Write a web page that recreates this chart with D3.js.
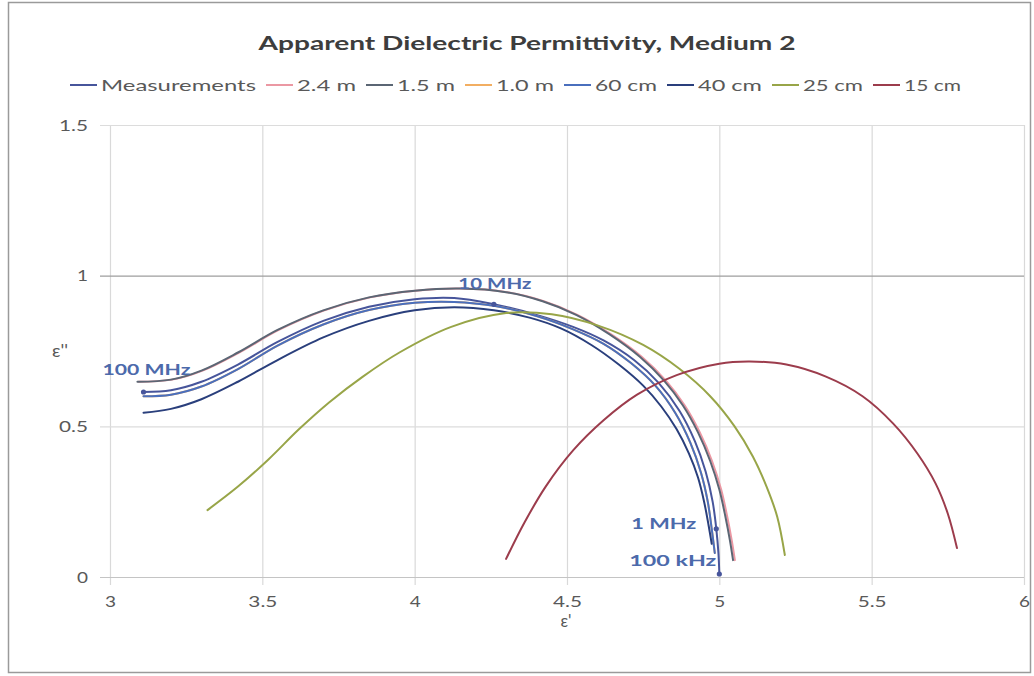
<!DOCTYPE html>
<html>
<head>
<meta charset="utf-8">
<script src="https://cdn.jsdelivr.net/npm/d3@7"></script>
<style>
  body { margin: 0; background: #fff; }
  svg { display: block; }
  text { font-family: Lato, "Open Sans", "Liberation Sans", sans-serif; }
</style>
</head>
<body>
<svg id="chart" width="1034" height="676"></svg>
<script>
// ---- data ----------------------------------------------------------------
const seriesNames = ["Measurements", "2.4 m", "1.5 m", "1.0 m", "60 cm", "40 cm", "25 cm", "15 cm"];

const xTicks = [3, 3.5, 4, 4.5, 5, 5.5, 6];
const yTicks = [0, 0.5, 1, 1.5];
const xTickLabels = ["3", "3.5", "4", "4.5", "5", "5.5", "6"];
const yTickLabels = ["0", "0.5", "1", "1.5"];

// measured permittivity (ε', ε''), from 100 MHz down to 100 kHz
const measEps1 = [3.11, 3.2, 3.3, 3.42, 3.55, 3.7, 3.85, 4.0, 4.13, 4.26, 4.4, 4.52, 4.62, 4.72, 4.80, 4.87, 4.92, 4.955, 4.978, 4.99, 4.997, 5.0];
const measEps2 = [0.614, 0.62, 0.648, 0.705, 0.78, 0.85, 0.897, 0.922, 0.926, 0.905, 0.87, 0.83, 0.785, 0.72, 0.645, 0.55, 0.45, 0.35, 0.25, 0.16, 0.08, 0.01];
const measFreq = ["100 MHz", "", "", "", "", "", "", "", "", "10 MHz", "", "", "", "", "", "", "", "", "", "1 MHz", "", "100 kHz"];

// modelled apparent permittivity for each probe distance
const m240Eps1 = [3.094, 3.204, 3.304, 3.424, 3.554, 3.704, 3.854, 4.004, 4.154, 4.304, 4.424, 4.534, 4.645, 4.746, 4.826, 4.886, 4.936, 4.976, 5.006, 5.026, 5.041, 5.051];
const m240Eps2 = [0.648, 0.655, 0.685, 0.745, 0.82, 0.885, 0.928, 0.95, 0.957, 0.945, 0.915, 0.87, 0.805, 0.73, 0.65, 0.57, 0.48, 0.385, 0.29, 0.2, 0.12, 0.056];

const m150Eps1 = [3.09, 3.2, 3.3, 3.42, 3.55, 3.7, 3.85, 4.0, 4.15, 4.3, 4.42, 4.53, 4.64, 4.74, 4.82, 4.88, 4.93, 4.97, 5.0, 5.02, 5.035, 5.045];
const m150Eps2 = [0.648, 0.655, 0.685, 0.745, 0.82, 0.885, 0.928, 0.95, 0.957, 0.945, 0.915, 0.87, 0.805, 0.73, 0.65, 0.57, 0.48, 0.385, 0.29, 0.2, 0.12, 0.056];

const m100Eps1 = [3.11, 3.2, 3.3, 3.42, 3.55, 3.7, 3.85, 4.0, 4.13, 4.26, 4.4, 4.52, 4.62, 4.71, 4.79, 4.855, 4.905, 4.94, 4.962, 4.975, 4.985];
const m100Eps2 = [0.6, 0.605, 0.632, 0.69, 0.768, 0.838, 0.886, 0.91, 0.913, 0.9, 0.866, 0.822, 0.774, 0.71, 0.635, 0.545, 0.445, 0.345, 0.25, 0.16, 0.08];

const m60Eps1 = [3.11, 3.2, 3.3, 3.42, 3.55, 3.7, 3.85, 4.0, 4.13, 4.26, 4.4, 4.52, 4.62, 4.71, 4.79, 4.855, 4.905, 4.94, 4.962, 4.975, 4.985];
const m60Eps2 = [0.6, 0.605, 0.632, 0.69, 0.768, 0.838, 0.886, 0.91, 0.913, 0.9, 0.866, 0.822, 0.774, 0.71, 0.635, 0.545, 0.445, 0.345, 0.25, 0.16, 0.08];

const m40Eps1 = [3.11, 3.2, 3.3, 3.42, 3.55, 3.7, 3.85, 4.0, 4.13, 4.26, 4.38, 4.48, 4.58, 4.67, 4.75, 4.81, 4.86, 4.9, 4.93, 4.95, 4.965, 4.975];
const m40Eps2 = [0.545, 0.558, 0.59, 0.648, 0.72, 0.795, 0.85, 0.885, 0.895, 0.885, 0.86, 0.825, 0.77, 0.705, 0.635, 0.565, 0.49, 0.41, 0.33, 0.25, 0.17, 0.11];

const m25Eps1 = [3.32, 3.42, 3.52, 3.62, 3.72, 3.83, 3.95, 4.12, 4.3, 4.45, 4.6, 4.75, 4.87, 4.97, 5.05, 5.11, 5.155, 5.19, 5.215];
const m25Eps2 = [0.222, 0.3, 0.39, 0.49, 0.58, 0.665, 0.745, 0.83, 0.876, 0.872, 0.835, 0.77, 0.69, 0.6, 0.5, 0.4, 0.3, 0.2, 0.073];

const m15Eps1 = [4.3, 4.36, 4.43, 4.52, 4.62, 4.73, 4.86, 5.0, 5.1, 5.22, 5.35, 5.47, 5.57, 5.65, 5.71, 5.75, 5.78];
const m15Eps2 = [0.06, 0.18, 0.3, 0.42, 0.52, 0.605, 0.67, 0.708, 0.715, 0.705, 0.665, 0.6, 0.51, 0.41, 0.31, 0.21, 0.096];

// ---- styling & layout ----------------------------------------------------
const seriesColors = {
  "Measurements": "#47559b",
  "2.4 m": "#eb98a3",
  "1.5 m": "#5b6674",
  "1.0 m": "#f2ae62",
  "60 cm": "#4a6fbd",
  "40 cm": "#2a3f7c",
  "25 cm": "#98a548",
  "15 cm": "#9c3c4c"
};
const legendTextWidths = [155, 59, 58, 58, 62, 64, 60, 57];

const W = 1034, H = 676;
const plot = { left: 110, right: 1024, top: 125, bottom: 577 };

const svg = d3.select("#chart");
const x = d3.scaleLinear().domain([3, 6]).range([plot.left, plot.right]);
const y = d3.scaleLinear().domain([0, 1.5]).range([plot.bottom, plot.top]);

// chart frame
svg.append("rect")
  .attr("x", 8.5).attr("y", 2.5)
  .attr("width", W - 12).attr("height", H - 6)
  .attr("fill", "#fff").attr("stroke", "#9a9a9a").attr("stroke-width", 1.5);

// approximate advance widths of the stretched tick lettering
const glyphW = ch => (ch === "." ? 7 : 11);
const labelWidth = s => Array.from(s).reduce((a, c) => a + glyphW(c), 0);

// x axis with full-height gridlines
const xAxis = svg.append("g")
  .attr("transform", `translate(0,${plot.bottom + 8})`)
  .call(d3.axisBottom(x)
    .tickValues(xTicks)
    .tickFormat((d, i) => xTickLabels[i])
    .tickSize(-(plot.bottom + 8 - plot.top))
    .tickPadding(11));
xAxis.select(".domain").remove();
xAxis.selectAll(".tick line").attr("stroke", "#d9d9d9").attr("stroke-width", 1.2);
xAxis.selectAll(".tick text")
  .attr("fill", "#595959").style("font-size", "16px")
  .attr("textLength", (d, i) => labelWidth(xTickLabels[i]))
  .attr("lengthAdjust", "spacingAndGlyphs");

// y axis with full-width gridlines
const yAxis = svg.append("g")
  .attr("transform", `translate(${plot.left - 10},0)`)
  .call(d3.axisLeft(y)
    .tickValues(yTicks)
    .tickFormat((d, i) => yTickLabels[i])
    .tickSize(-(plot.right - plot.left + 10))
    .tickPadding(12));
yAxis.select(".domain").remove();
yAxis.selectAll(".tick line")
  .attr("stroke", d => d === 1 ? "#9e9e9e" : d === 0 ? "#c4c4c4" : "#dcdcdc")
  .attr("stroke-width", 1.2);
yAxis.selectAll(".tick text")
  .attr("fill", "#595959").style("font-size", "16px")
  .attr("textLength", (d, i) => labelWidth(yTickLabels[i]))
  .attr("lengthAdjust", "spacingAndGlyphs");

// series lines
const line = d3.line()
  .x(d => x(d[0]))
  .y(d => y(d[1]))
  .curve(d3.curveCatmullRom.alpha(0.5));

const zip = (a, b) => a.map((v, i) => [v, b[i]]);
const seriesData = {
  "Measurements": zip(measEps1, measEps2),
  "2.4 m": zip(m240Eps1, m240Eps2),
  "1.5 m": zip(m150Eps1, m150Eps2),
  "1.0 m": zip(m100Eps1, m100Eps2),
  "60 cm": zip(m60Eps1, m60Eps2),
  "40 cm": zip(m40Eps1, m40Eps2),
  "25 cm": zip(m25Eps1, m25Eps2),
  "15 cm": zip(m15Eps1, m15Eps2)
};

const lines = svg.append("g");
seriesNames.forEach(name => {
  lines.append("path")
    .datum(seriesData[name])
    .attr("d", line)
    .attr("fill", "none")
    .attr("stroke", seriesColors[name])
    .attr("stroke-width", 2)
    .attr("stroke-linecap", "round");
});

// frequency markers and labels on the measured curve
const labelOffsets = {
  "100 MHz": { dx: 3, dy: -17, anchor: "middle", w: 88 },
  "10 MHz": { dx: 1, dy: -15, anchor: "middle", w: 73 },
  "1 MHz": { dx: -20, dy: 0, anchor: "end", w: 65 },
  "100 kHz": { dx: -3, dy: -8, anchor: "end", w: 87 }
};
const freqPts = measFreq
  .map((f, i) => ({ f, e1: measEps1[i], e2: measEps2[i] }))
  .filter(d => d.f !== "");

svg.append("g").selectAll("circle")
  .data(freqPts).join("circle")
  .attr("cx", d => x(d.e1)).attr("cy", d => y(d.e2))
  .attr("r", 2.6).attr("fill", seriesColors["Measurements"]);

svg.append("g").selectAll("text")
  .data(freqPts).join("text")
  .attr("x", d => x(d.e1) + labelOffsets[d.f].dx)
  .attr("y", d => y(d.e2) + labelOffsets[d.f].dy)
  .attr("text-anchor", d => labelOffsets[d.f].anchor)
  .attr("fill", "#4c6aab")
  .style("font-size", "16px").style("font-weight", "bold")
  .attr("textLength", d => labelOffsets[d.f].w)
  .attr("lengthAdjust", "spacingAndGlyphs")
  .text(d => d.f);

// title
svg.append("text")
  .attr("x", 527).attr("y", 50)
  .attr("text-anchor", "middle")
  .attr("fill", "#3d3d3d")
  .style("font-size", "19px").style("font-weight", "bold")
  .attr("textLength", 537).attr("lengthAdjust", "spacingAndGlyphs")
  .text("Apparent Dielectric Permittivity, Medium 2");

// legend
const legend = svg.append("g");
let lx = 70;
seriesNames.forEach((name, i) => {
  legend.append("line")
    .attr("x1", lx).attr("x2", lx + 27)
    .attr("y1", 85).attr("y2", 85)
    .attr("stroke", seriesColors[name]).attr("stroke-width", 2);
  legend.append("text")
    .attr("x", lx + 31).attr("y", 90.5)
    .attr("fill", "#595959")
    .style("font-size", "15px")
    .attr("textLength", legendTextWidths[i]).attr("lengthAdjust", "spacingAndGlyphs")
    .text(name);
  lx += 31 + legendTextWidths[i] + 10;
});

// axis titles
svg.append("text")
  .attr("x", 60).attr("y", 357)
  .attr("text-anchor", "middle").attr("fill", "#595959")
  .style("font-size", "17px")
  .attr("textLength", 16).attr("lengthAdjust", "spacingAndGlyphs")
  .text("ε''");
svg.append("text")
  .attr("x", 566).attr("y", 627)
  .attr("text-anchor", "middle").attr("fill", "#595959")
  .style("font-size", "17px")
  .attr("textLength", 11).attr("lengthAdjust", "spacingAndGlyphs")
  .text("ε'");
</script>
</body>
</html>
